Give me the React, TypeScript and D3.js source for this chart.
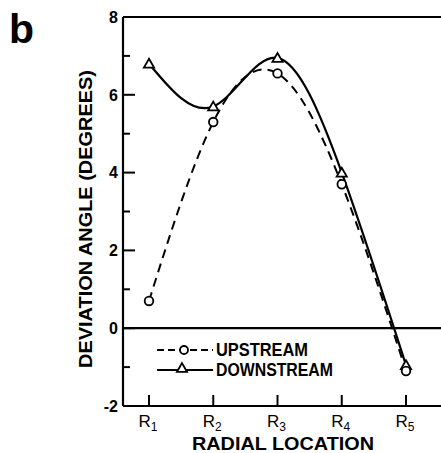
import React, { useRef, useEffect } from 'react';
import { select, scaleLinear, scalePoint, line, curveNatural, symbol, symbolTriangle } from 'd3';

const categories = ['1', '2', '3', '4', '5'];
const upstream = [0.7, 5.3, 6.55, 3.7, -1.1];
const downstream = [6.8, 5.7, 6.95, 4.0, -0.95];
const yMajor = [-2, 0, 2, 4, 6, 8];
const yMinor = [-1, 1, 3, 5, 7];

const W = 441;
const H = 453;
const font = "'Liberation Sans Narrow', 'Liberation Sans', Arial, sans-serif";

function App() {
  const svgRef = useRef<SVGSVGElement>(null);

  useEffect(() => {
    const svg = select(svgRef.current);
    svg.selectAll('*').remove();

    const left = 123;
    const x = scalePoint<string>().domain(categories).range([149, 406]);
    const y = scaleLinear().domain([-2, 8]).range([406, 17]);

    const g = svg.append('g');

    // frame: left axis, top line, zero line, bottom axis
    g.append('line').attr('x1', left).attr('x2', left).attr('y1', y(8)).attr('y2', y(-2))
      .attr('stroke', '#000').attr('stroke-width', 2.2);
    [8, 0, -2].forEach((v) => {
      g.append('line').attr('x1', left).attr('x2', W).attr('y1', y(v)).attr('y2', y(v))
        .attr('stroke', '#000').attr('stroke-width', 2.2);
    });

    // y ticks (inside)
    g.selectAll('.ymaj').data(yMajor).join('line')
      .attr('x1', left).attr('x2', left + 12)
      .attr('y1', (d) => y(d)).attr('y2', (d) => y(d))
      .attr('stroke', '#000').attr('stroke-width', 2);
    g.selectAll('.ymin').data(yMinor).join('line')
      .attr('x1', left).attr('x2', left + 7)
      .attr('y1', (d) => y(d)).attr('y2', (d) => y(d))
      .attr('stroke', '#000').attr('stroke-width', 2);
    g.selectAll('.ylab').data(yMajor).join('text')
      .attr('x', 118).attr('y', (d) => y(d)).attr('dy', '0.36em')
      .attr('text-anchor', 'end')
      .attr('font-family', font).attr('font-weight', 'bold').attr('font-size', 16)
      .text((d) => (d < 0 ? '-' + Math.abs(d) : String(d)));

    // x ticks (inside, upward)
    g.selectAll('.xt').data(categories).join('line')
      .attr('x1', (d) => x(d)!).attr('x2', (d) => x(d)!)
      .attr('y1', y(-2)).attr('y2', y(-2) - 11)
      .attr('stroke', '#000').attr('stroke-width', 2);
    const xl = g.selectAll('.xl').data(categories).join('text')
      .attr('x', (d) => x(d)! - 1).attr('y', 427)
      .attr('text-anchor', 'middle')
      .attr('font-family', font).attr('font-size', 17);
    xl.append('tspan').text('R');
    xl.append('tspan').attr('font-size', 12).attr('dy', 4).text((d) => d);

    // axis titles
    svg.append('text')
      .attr('x', 283).attr('y', 450)
      .attr('text-anchor', 'middle')
      .attr('font-family', font).attr('font-weight', 'bold').attr('font-size', 19)
      .attr('textLength', 182).attr('lengthAdjust', 'spacingAndGlyphs')
      .text('RADIAL LOCATION');
    svg.append('text')
      .attr('transform', `translate(92, ${(70 + 368) / 2}) rotate(-90)`)
      .attr('text-anchor', 'middle')
      .attr('font-family', font).attr('font-weight', 'bold').attr('font-size', 18)
      .attr('textLength', 298).attr('lengthAdjust', 'spacingAndGlyphs')
      .text('DEVIATION ANGLE (DEGREES)');

    // panel label
    svg.append('text')
      .attr('x', 9).attr('y', 43)
      .attr('font-family', "'Liberation Sans', Arial, sans-serif").attr('font-weight', 'bold').attr('font-size', 41)
      .text('b');

    // curves
    const mk = line<number>().x((_, i) => x(categories[i])!).y((d) => y(d)).curve(curveNatural);
    g.append('path').attr('d', mk(upstream)).attr('fill', 'none')
      .attr('stroke', '#000').attr('stroke-width', 2).attr('stroke-dasharray', '9,6');
    g.append('path').attr('d', mk(downstream)).attr('fill', 'none')
      .attr('stroke', '#000').attr('stroke-width', 2.2);

    const tri = symbol().type(symbolTriangle).size(45);
    g.selectAll('.tri').data(downstream).join('path')
      .attr('d', tri)
      .attr('transform', (d, i) => `translate(${x(categories[i])}, ${y(d) + 1})`)
      .attr('fill', '#fff').attr('stroke', '#000').attr('stroke-width', 1.8);
    g.selectAll('.circ').data(upstream).join('circle')
      .attr('cx', (_, i) => x(categories[i])!).attr('cy', (d) => y(d)).attr('r', 4.3)
      .attr('fill', '#fff').attr('stroke', '#000').attr('stroke-width', 1.8);

    // legend
    const lg = g.append('g');
    const ly1 = 350;
    const ly2 = 370;
    lg.append('line').attr('x1', 157).attr('x2', 213).attr('y1', ly1).attr('y2', ly1)
      .attr('stroke', '#000').attr('stroke-width', 2).attr('stroke-dasharray', '7,4');
    lg.append('circle').attr('cx', 184).attr('cy', ly1).attr('r', 4)
      .attr('fill', '#fff').attr('stroke', '#000').attr('stroke-width', 1.8);
    lg.append('line').attr('x1', 157).attr('x2', 213).attr('y1', ly2).attr('y2', ly2)
      .attr('stroke', '#000').attr('stroke-width', 2);
    lg.append('path').attr('d', tri).attr('transform', `translate(182, ${ly2 - 1})`)
      .attr('fill', '#fff').attr('stroke', '#000').attr('stroke-width', 1.8);
    [['UPSTREAM', ly1, 92], ['DOWNSTREAM', ly2, 117]].forEach(([t, yy, len]) => {
      lg.append('text').attr('x', 216).attr('y', yy as number).attr('dy', '0.36em')
        .attr('font-family', font).attr('font-weight', 'bold').attr('font-size', 18)
        .attr('textLength', len as number).attr('lengthAdjust', 'spacingAndGlyphs')
        .text(t as string);
    });
  }, []);

  return (
    <svg ref={svgRef} width={W} height={H}
      style={{ position: 'absolute', left: 0, top: 0, background: '#fff' }} />
  );
}

export default App;
